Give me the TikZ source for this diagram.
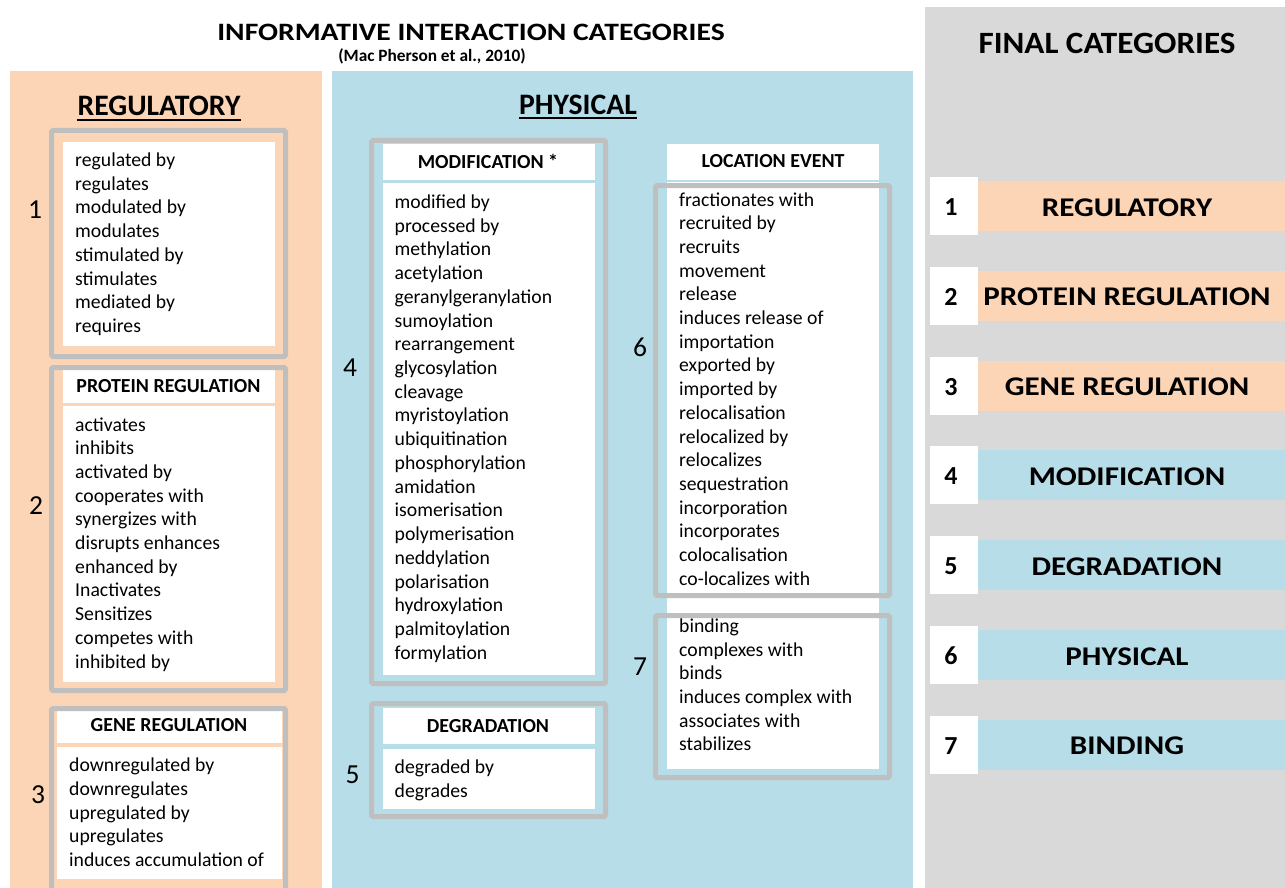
\documentclass[tikz,border=0pt]{standalone}
\usepackage{fontspec}
\setmainfont{Carlito}
\definecolor{peach}{HTML}{FBD5B5}
\definecolor{skyblue}{HTML}{B7DDE8}
\definecolor{panelgray}{HTML}{D9D9D9}
\definecolor{framegray}{HTML}{BFBFBF}
\begin{document}
\begin{tikzpicture}[x=1pt,y=-1pt,
  frame/.style={draw=framegray,line width=5pt,rounded corners=1.5pt},
  whitebox/.style={fill=white,draw=none},
  item/.style={anchor=base west,inner sep=0pt,font=\fontsize{19.7}{23}\selectfont},
  boxhead/.style={anchor=base,inner sep=0pt,font=\fontsize{19.9}{23}\selectfont\bfseries},
  num/.style={anchor=base,inner sep=0pt,font=\fontsize{27.5}{30}\selectfont},
  bighead/.style={anchor=base,inner sep=0pt,font=\fontsize{29.7}{32}\selectfont\bfseries},
  finalnum/.style={anchor=base,inner sep=0pt,font=\fontsize{26}{30}\selectfont\bfseries},
  finallabel/.style={anchor=base,inner sep=0pt,font=\fontsize{27}{30}\selectfont\bfseries}]
\useasboundingbox (0,0) rectangle (1285,888);
\clip (0,0) rectangle (1285,888);

% background panels
\fill[peach] (10,71) rectangle (322,888);
\fill[skyblue] (332,71) rectangle (913,888);
\fill[panelgray] (925,7) rectangle (1285,888);

% titles
\node[anchor=base,inner sep=0pt,font=\fontsize{25}{28}\selectfont\bfseries] (title) at (471,40.7) {\scalebox{1.185}[1]{INFORMATIVE INTERACTION CATEGORIES}};
\node[anchor=base,inner sep=0pt,font=\fontsize{17.3}{19}\selectfont\bfseries] (cite) at (432,61.7) {(Mac Pherson et al., 2010)};
\node[bighead] (hreg) at (159,116) {REGULATORY};
\draw[line width=2pt] ([yshift=-4pt]hreg.base west) -- ([yshift=-4pt]hreg.base east);
\node[bighead] (hphys) at (578,115) {PHYSICAL};
\draw[line width=2pt] ([yshift=-3pt]hphys.base west) -- ([yshift=-3pt]hphys.base east);
\node[anchor=base,inner sep=0pt,font=\fontsize{31}{34}\selectfont\bfseries] (hfinal) at (1107,53.3) {\scalebox{1.068}[1]{FINAL CATEGORIES}};

% regulatory column: white fields
\fill[whitebox] (63,142) rectangle (275,346);
\fill[whitebox] (63,370) rectangle (275,403);
\fill[whitebox] (63,406) rectangle (275,682);
\fill[whitebox] (57,710) rectangle (282,743);
\fill[whitebox] (57,747) rectangle (282,879);
% regulatory column: frames
\draw[frame] (51.5,130.5) rectangle (285.5,356.5);
\draw[frame] (51.5,367.5) rectangle (285.5,690.5);
\draw[frame] (51.5,708.5) rectangle (285.5,900);

% physical column: white fields
\fill[whitebox] (383,144) rectangle (595,180);
\fill[whitebox] (383,183) rectangle (595,675);
\fill[whitebox] (383,708) rectangle (595,744);
\fill[whitebox] (383,749) rectangle (595,809);
\fill[whitebox] (667,144) rectangle (879,180);
\fill[whitebox] (667,182) rectangle (879,769);
% physical column: frames
\draw[frame] (371.5,140.5) rectangle (605.5,683.5);
\draw[frame] (371.5,703.5) rectangle (605.5,816.5);
\draw[frame] (655.5,185.5) rectangle (889.5,595.5);
\draw[frame] (655.5,615.5) rectangle (889.5,777.5);

% box headers
\node[boxhead] (hprot) at (168.5,392.3) {PROTEIN REGULATION};
\node[boxhead] (hgene) at (169,731) {GENE REGULATION};
\node[boxhead] (hmod) at (488,168.3) {MODIFICATION *};
\node[boxhead] (hdeg) at (488,732.3) {DEGRADATION};
\node[boxhead] (hloc) at (773,167.3) {LOCATION EVENT};

% group numbers
\node[num] (n1) at (35,218.3) {1};
\node[num] (n2) at (36,514) {2};
\node[num] (n3) at (38,803.3) {3};
\node[num] (n4) at (350,376.7) {4};
\node[num] (n5) at (352.7,783) {5};
\node[num] (n6) at (640,356.7) {6};
\node[num] (n7) at (640,675) {7};

% term lists
\foreach \t [count=\i] in {regulated by,regulates,modulated by,modulates,stimulated by,stimulates,mediated by,requires}
  \node[item] (ta\i) at (75,{166.5+23.7*(\i-1)}) {\t};
\foreach \t [count=\i] in {activates,inhibits,activated by,cooperates with,synergizes with,disrupts enhances,enhanced by,Inactivates,Sensitizes,competes with,inhibited by}
  \node[item] (tb\i) at (75,{431+23.7*(\i-1)}) {\t};
\foreach \t [count=\i] in {downregulated by,downregulates,upregulated by,upregulates,induces accumulation of}
  \node[item] (tc\i) at (69,{771.7+23.7*(\i-1)}) {\t};
\foreach \t [count=\i] in {modified by,processed by,methylation,acetylation,geranylgeranylation,sumoylation,rearrangement,glycosylation,cleavage,myristoylation,ubiquitination,phosphorylation,amidation,isomerisation,polymerisation,neddylation,polarisation,hydroxylation,palmitoylation,formylation}
  \node[item] (td\i) at (394.5,{208.3+23.74*(\i-1)}) {\t};
\foreach \t [count=\i] in {degraded by,degrades}
  \node[item] (te\i) at (394.5,{773.3+23.7*(\i-1)}) {\t};
\foreach \t [count=\i] in {fractionates with,recruited by,recruits,movement,release,induces release of,importation,exported by,imported by,relocalisation,relocalized by,relocalizes,sequestration,incorporation,incorporates,colocalisation,co-localizes with}
  \node[item] (tf\i) at (679,{206+23.7*(\i-1)}) {\t};
\foreach \t [count=\i] in {binding,complexes with,binds,induces complex with,associates with,stabilizes}
  \node[item] (tg\i) at (679,{632.3+23.7*(\i-1)}) {\t};

% final categories
\foreach \lab/\col [count=\i] in {REGULATORY/peach,PROTEIN REGULATION/peach,GENE REGULATION/peach,MODIFICATION/skyblue,DEGRADATION/skyblue,PHYSICAL/skyblue,BINDING/skyblue}{
  \pgfmathsetmacro{\c}{206+89.8*(\i-1)}
  \fill[white] (930,\c-29) rectangle (978,\c+29);
  \fill[\col] (978,\c-25) rectangle (1285,\c+25);
  \node[finalnum] (fn\i) at (951,\c+9.5) {\i};
  \node[finallabel] (fl\i) at (1127,\c+10) {\scalebox{1.15}[1]{\lab}};
}
\end{tikzpicture}
\end{document}
